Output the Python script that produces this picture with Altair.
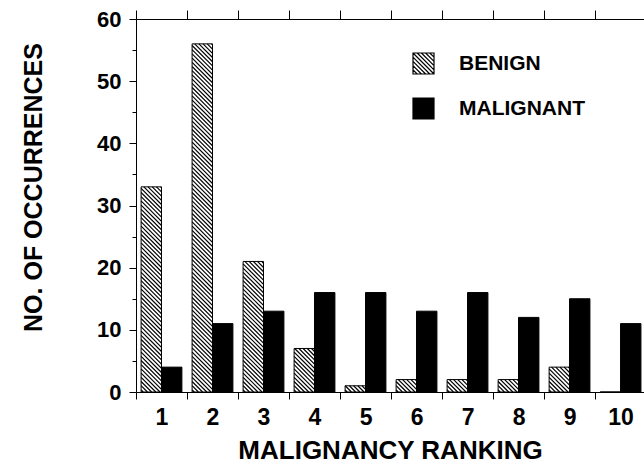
import altair as alt
import pandas as pd

# ---- data ----
ranks = [1, 2, 3, 4, 5, 6, 7, 8, 9, 10]
benign = [33, 56, 21, 7, 1, 2, 2, 2, 4, 0]
malignant = [4, 11, 13, 16, 16, 13, 16, 12, 15, 11]
series_names = ["BENIGN", "MALIGNANT"]
y_ticks = [0, 5, 10, 15, 20, 25, 30, 35, 40, 45, 50, 55, 60]

FONT = "Liberation Sans"
W, H = 508, 373
X_MIN, X_MAX = 0.5, 10.46
Y_MAX = 60
PXX = W / (X_MAX - X_MIN)   # px per rank unit
PXY = H / Y_MAX             # px per count unit
HALF = 0.4                  # bar width in rank units
HATCH_STEP = 4.2            # px between hatch lines

df = pd.DataFrame({"rank": ranks, "benign": benign, "malignant": malignant})

xscale = alt.Scale(domain=[X_MIN, X_MAX], nice=False, zero=False)
yscale = alt.Scale(domain=[0, Y_MAX], nice=False, zero=True)

bounds = [r - 0.5 for r in ranks]
bottom_values = sorted(bounds + ranks)

x_bottom = alt.Axis(
    orient="bottom", values=bottom_values, grid=False,
    domain=True, domainColor="black", domainWidth=1,
    ticks=True, tickColor="black", tickWidth=1, tickSize=7,
    tickOpacity={"condition": {"test": "datum.value % 1 == 0", "value": 0}, "value": 1},
    labelExpr="datum.value % 1 == 0 ? format(datum.value, 'd') : ''",
    labelFont=FONT, labelFontSize=23, labelFontWeight="bold", labelColor="black",
    labelBaseline="alphabetic", labelPadding=25, labelOverlap=False, labelFlush=False,
    title="MALIGNANCY RANKING", titleFont=FONT, titleFontSize=26, titleFontWeight="bold",
    titleColor="black", titleBaseline="alphabetic", titleY=66, titleAnchor="middle",
)

x_top = alt.Axis(
    orient="top", values=bounds, grid=False, labels=False,
    domain=True, domainColor="black", domainWidth=1,
    ticks=True, tickColor="black", tickWidth=1, tickSize=9, title=None,
)

y_left = alt.Axis(
    orient="left", values=y_ticks, grid=False,
    domain=True, domainColor="black", domainWidth=1,
    ticks=True, tickColor="black", tickWidth=1,
    tickSize={"condition": {"test": "datum.value % 10 != 0", "value": 4}, "value": 7},
    labelExpr="datum.value % 10 == 0 ? format(datum.value, 'd') : ''",
    labelFont=FONT, labelFontSize=22, labelFontWeight="bold", labelColor="black",
    labelPadding=8, labelOverlap=False, labelFlush=False,
    title="NO. OF OCCURRENCES", titleFont=FONT, titleFontSize=25, titleFontWeight="bold",
    titleColor="black", titleAngle=270, titleX=-95, titleY=168,
    titleBaseline="alphabetic", titleAlign="center",
)

base = alt.Chart(df)

benign_bars = base.mark_rect(fill="white", stroke="black", strokeWidth=1).transform_calculate(
    x0=f"datum.rank - {HALF}"
).encode(
    x=alt.X("x0:Q", scale=xscale, axis=x_bottom),
    x2="rank:Q",
    y=alt.Y("benign:Q", scale=yscale, axis=y_left),
    y2=alt.datum(0),
)

hatch = base.mark_rule(color="black", strokeWidth=1.2).transform_calculate(
    h=f"datum.benign * {PXY}",
    cs=f"sequence({HATCH_STEP / 2}, {HALF * PXX} + datum.benign * {PXY}, {HATCH_STEP})",
).transform_flatten(["cs"]).transform_calculate(
    u0="max(0, datum.cs - datum.h)",
    u1=f"min({HALF * PXX}, datum.cs)",
).transform_filter("datum.u1 > datum.u0 + 0.01").transform_calculate(
    xa=f"datum.rank - {HALF} + datum.u0 / {PXX}",
    xb=f"datum.rank - {HALF} + datum.u1 / {PXX}",
    ya=f"(datum.cs - datum.u0) / {PXY}",
    yb=f"(datum.cs - datum.u1) / {PXY}",
).encode(
    x=alt.X("xa:Q", scale=xscale, axis=None),
    x2="xb:Q",
    y=alt.Y("ya:Q", scale=yscale, axis=None),
    y2="yb:Q",
)

malignant_bars = base.mark_rect(fill="black", stroke="black", strokeWidth=1).transform_calculate(
    x1=f"datum.rank + {HALF}"
).encode(
    x=alt.X("rank:Q", scale=xscale, axis=x_top),
    x2="x1:Q",
    y=alt.Y("malignant:Q", scale=yscale, axis=None),
    y2=alt.datum(0),
)

# hatched square symbol for the legend (normalized to [-1, 1])
segs = ["M-1,-1H1V1H-1Z"]
for k in [-1.6, -1.2, -0.8, -0.4, 0.0, 0.4, 0.8, 1.2, 1.6]:
    if k >= 0:
        segs.append(f"M{k - 1:.2f},-1L1,{1 - k:.2f}")
    else:
        segs.append(f"M-1,{-1 - k:.2f}L{1 + k:.2f},1")
hatch_path = "".join(segs)

leg = alt.Legend(
    orient="none", legendX=276, legendY=33, title=None,
    labelFont=FONT, labelFontSize=21, labelFontWeight="bold", labelColor="black",
    symbolSize=441, symbolStrokeWidth=1.2, symbolStrokeColor="black", symbolOpacity=1,
    labelOffset=24, rowPadding=18, padding=0,
)

legend_df = pd.DataFrame({"type": series_names})
legend_layer = alt.Chart(legend_df).mark_point(
    filled=True, strokeWidth=1.2, opacity=1
).encode(
    fill=alt.Fill("type:N", scale=alt.Scale(domain=series_names, range=["white", "black"]), legend=leg),
    stroke=alt.Stroke("type:N", scale=alt.Scale(domain=series_names, range=["black", "black"]), legend=leg),
    shape=alt.Shape("type:N", scale=alt.Scale(domain=series_names, range=[hatch_path, "square"]), legend=leg),
).transform_filter("false")

chart = alt.layer(benign_bars, hatch, malignant_bars, legend_layer).resolve_axis(
    x="independent", y="independent"
).properties(
    width=W, height=H,
    autosize=alt.AutoSizeParams(type="none"),
    padding={"left": 136, "top": 19, "right": 0, "bottom": 73},
    background="white",
).configure_view(stroke=None)

chart.save("out.html", embed_options={"renderer": "svg", "actions": False})
